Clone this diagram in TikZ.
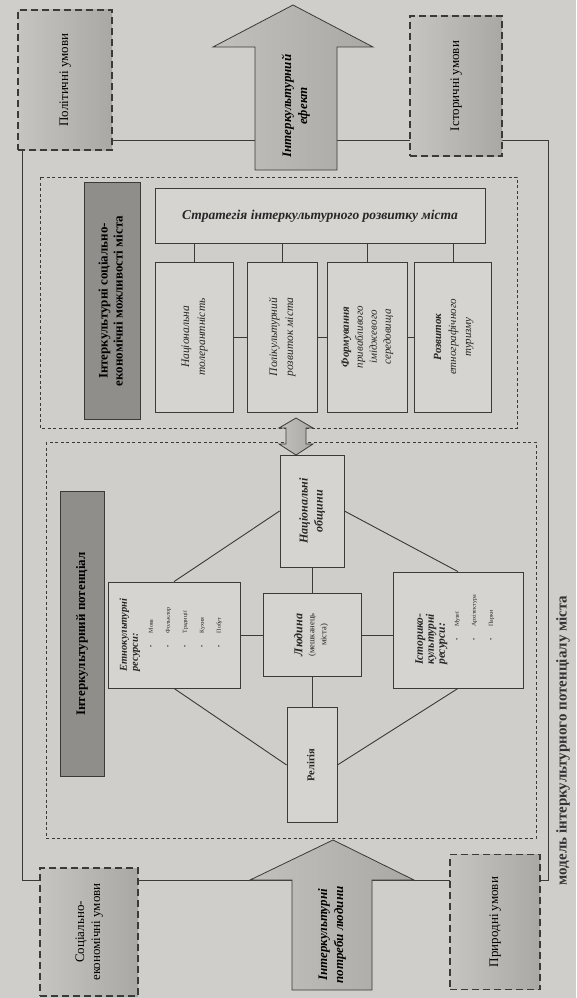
\documentclass[tikz,border=0pt]{standalone}
\usepackage{fontspec}
\setmainfont{Liberation Serif}
\usepackage{graphicx}
\usetikzlibrary{positioning}
\definecolor{paper}{HTML}{CFCECA}
\definecolor{boxbg}{HTML}{D5D4D0}
\definecolor{condbg}{HTML}{B2B1AD}
\definecolor{labbg}{HTML}{8F8E8B}
\definecolor{ink}{HTML}{3A3A38}
\newcommand{\vt}[1]{\rotatebox{90}{\begin{tabular}{@{}c@{}}#1\end{tabular}}}
\newcommand{\vl}[1]{\rotatebox{90}{\begin{tabular}{@{}l@{}}#1\end{tabular}}}
\newcommand{\itm}[1]{{\fontsize{6}{7}\selectfont\hspace*{24pt}\textbullet\hspace{12pt}#1}\\[5pt]}

\begin{document}
\begin{tikzpicture}[x=1pt,y=-1pt,
  box/.style={draw=ink,fill=boxbg,line width=.8pt,inner sep=0pt,text=black!85},
  cond/.style={draw=ink,left color=condbg!75!white,right color=condbg!95!black,line width=1.6pt,dash pattern=on 7pt off 4pt,inner sep=0pt,font=\fontsize{13}{16}\selectfont},
  lab/.style={draw=ink,fill=labbg,line width=.8pt,inner sep=0pt,font=\fontsize{13}{15}\selectfont\bfseries},
  sect/.style={ink,line width=.8pt,dash pattern=on 3pt off 2.5pt},
  blk/.style={draw=ink,left color=condbg!80!white,right color=condbg!95!black,line width=.8pt},
  link/.style={ink,line width=.9pt}]
\fill[paper] (0,0) rectangle (576,998);\useasboundingbox (0,0) rectangle (576,998);
\draw[link,line width=1pt] (22,140) rectangle (548,880);
\draw[sect] (40,177) rectangle (517,428);\draw[sect] (46,442) rectangle (536,838);
\node[cond,minimum width=94pt,minimum height=140pt] (pol) at (65,80) {\vt{Політичні умови}};
\node[cond,minimum width=92pt,minimum height=140pt] (ist) at (456,86) {\vt{Історичні умови}};
\node[cond,minimum width=98pt,minimum height=128pt] (soc) at (89,932) {\vt{Соціально-\\економічні умови}};
\node[cond,minimum width=90pt,minimum height=135pt] (prir) at (495,922) {\vt{Природні умови}};
\draw[blk] (255,170)--(255,47)--(213,47)--(293,5)--(373,47)--(337,47)--(337,170)--cycle;
\node[font=\fontsize{13}{16}\selectfont\bfseries\itshape] (eff) at (296,106) {\vt{Інтеркультурний\\ефект}};
\draw[blk] (292,990)--(292,880)--(250,880)--(333,840)--(414,880)--(372,880)--(372,990)--cycle;
\node[font=\fontsize{13}{16}\selectfont\bfseries\itshape] (need) at (332,935) {\vt{Інтеркультурні\\потреби людини}};
\node[lab,minimum width=56pt,minimum height=237pt] (ulab) at (112,301) {\vt{Інтеркультурні соціально-\\економічні можливості міста}};
\node[box,minimum width=330pt,minimum height=55pt,font=\fontsize{13.5}{16}\selectfont\bfseries\itshape] (strat) at (320,216) {Стратегія інтеркультурного розвитку міста};
\node[box,minimum width=78pt,minimum height=150pt,font=\fontsize{11.5}{16}\selectfont\itshape] (tol) at (194,337) {\vt{Національна\\толерантність}};
\node[box,minimum width=70pt,minimum height=150pt,font=\fontsize{11.5}{16}\selectfont\itshape] (poli) at (282,337) {\vt{Полікультурний\\розвиток міста}};
\node[box,minimum width=80pt,minimum height=150pt,font=\fontsize{11}{14}\selectfont\itshape] (imag) at (367,337) {\vt{\textbf{Формування}\\привабливого\\іміджевого\\середовища}};
\node[box,minimum width=77pt,minimum height=150pt,font=\fontsize{11}{15}\selectfont\itshape] (tur) at (453,337) {\vt{\textbf{Розвиток}\\етнографічного\\туризму}};
\foreach \b in {tol,poli,imag,tur}{\draw[link] (strat.south -| \b.north) -- (\b.north);}
\draw[link] (tol.east) -- (poli.west);\draw[link] (poli.east) -- (imag.west);\draw[link] (imag.east) -- (tur.west);
\draw[blk] (296,418)--(313,428)--(306,428)--(306,444)--(313,444)--(296,455)--(279,444)--(286,444)--(286,428)--(279,428)--cycle;
\node[lab,minimum width=44pt,minimum height=285pt] (llab) at (82,634) {\vt{Інтеркультурний потенціал}};
\node[box,minimum width=64pt,minimum height=112pt,font=\fontsize{12}{15}\selectfont\bfseries\itshape] (nat) at (312,511) {\vt{Національні\\общини}};
\node[box,minimum width=132pt,minimum height=106pt] (etno) at (174,635) {\vl{\fontsize{10.5}{12}\selectfont\bfseries\itshape Етнокультурні\\[-1pt]\fontsize{10.5}{12}\selectfont\bfseries\itshape ресурси:\\[3pt]\itm{Мова}\itm{Фольклор}\itm{Традиції}\itm{Кухня}\itm{Побут}}};
\node[box,minimum width=98pt,minimum height=83pt] (lyud) at (312,635) {\vt{\fontsize{12}{14}\selectfont\bfseries\itshape Людина\\\fontsize{8.5}{10}\selectfont(мешканець\\\fontsize{8.5}{10}\selectfont міста)}};
\node[box,minimum width=130pt,minimum height=116pt] (istor) at (458,630) {\vl{\fontsize{11.5}{13}\selectfont\bfseries\itshape Історико-\\[-1pt]\fontsize{11.5}{13}\selectfont\bfseries\itshape культурні\\[-1pt]\fontsize{11.5}{13}\selectfont\bfseries\itshape ресурси:\\[2pt]\itm{Музеї}\itm{Архітектура}\itm{Парки}}};
\node[box,minimum width=50pt,minimum height=115pt,font=\fontsize{10.5}{12}\selectfont\bfseries] (rel) at (312,765) {\vt{Релігія}};
\draw[link] (nat.west) -- (etno.north);\draw[link] (nat.east) -- (istor.north);\draw[link] (nat.south) -- (lyud.north);
\draw[link] (etno.east) -- (lyud.west);\draw[link] (lyud.east) -- (lyud.east -| istor.west);\draw[link] (lyud.south) -- (rel.north);
\draw[link] (etno.south) -- (rel.west);\draw[link] (istor.south) -- (rel.east);
\node[font=\fontsize{15}{17}\selectfont\bfseries,anchor=east,rotate=90,text=black!80] (cap) at (563,592) {модель інтеркультурного потенціалу міста};
\end{tikzpicture}
\end{document}
